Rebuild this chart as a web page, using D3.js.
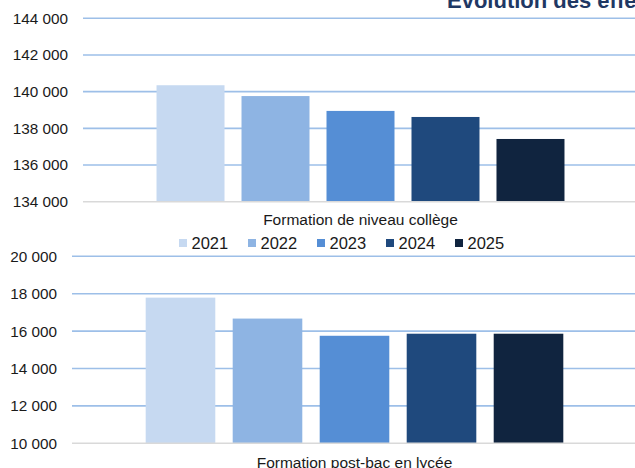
<!DOCTYPE html>
<html>
<head>
<meta charset="utf-8">
<script src="https://cdn.jsdelivr.net/npm/d3@7"></script>
<style>
  html, body { margin: 0; padding: 0; background: #fff; }
  svg { display: block; }
  text { font-family: "Liberation Sans", Arial, sans-serif; fill: #1a1a1a; }
</style>
</head>
<body>
<svg id="chart" width="635" height="468"></svg>
<script>
const title = "Évolution des effectifs";
const years = ["2021", "2022", "2023", "2024", "2025"];
const colors = ["#C6D9F1", "#8EB4E3", "#558ED5", "#1F497D", "#10243F"];

const collegeLabel = "Formation de niveau collège";
const collegeValues = [140350, 139760, 138950, 138620, 137420];
const collegeTicks = [134000, 136000, 138000, 140000, 142000, 144000];

const postbacLabel = "Formation post-bac en lycée";
const postbacValues = [17790, 16670, 15750, 15860, 15860];
const postbacTicks = [10000, 12000, 14000, 16000, 18000, 20000];

const svg = d3.select("#chart");
const fmt = d => d3.format(",")(d).replace(/,/g, "\u00a0");

svg.append("text")
  .attr("x", 447).attr("y", 8)
  .attr("font-size", 22).attr("font-weight", "bold")
  .style("fill", "#1F3864")
  .text(title);

function panel(cfg) {
  const y = d3.scaleLinear().domain(cfg.domain).range([cfg.bottom, cfg.top]);
  const x = d3.scaleBand().domain(years).range([cfg.left, cfg.right])
    .paddingInner(0.2).paddingOuter(cfg.outer);
  const g = svg.append("g");

  const axis = d3.axisLeft(y).tickValues(cfg.ticks).tickFormat(fmt).tickSize(0).tickPadding(0);
  const ax = g.append("g").attr("transform", `translate(${cfg.labelRight},0)`).call(axis);
  ax.select(".domain").remove();
  ax.selectAll("text").attr("font-size", 15.3).style("fill", "#1a1a1a")
    .style("font-family", '"Liberation Sans", Arial, sans-serif');

  g.selectAll("line.grid").data(cfg.ticks.slice(1)).join("line")
    .attr("class", "grid")
    .attr("x1", cfg.left).attr("x2", 635)
    .attr("y1", d => y(d)).attr("y2", d => y(d))
    .attr("stroke", "#9DBFE8").attr("stroke-width", 1.6);

  g.selectAll("rect.bar").data(cfg.values).join("rect")
    .attr("class", "bar")
    .attr("x", (d, i) => x(years[i]))
    .attr("width", x.bandwidth())
    .attr("y", d => y(d))
    .attr("height", d => y(cfg.domain[0]) - y(d))
    .attr("fill", (d, i) => colors[i]);

  g.append("line")
    .attr("x1", cfg.left).attr("x2", 635)
    .attr("y1", y(cfg.domain[0])).attr("y2", y(cfg.domain[0]))
    .attr("stroke", "#D9D9D9").attr("stroke-width", 1.6);

  g.append("text")
    .attr("x", (cfg.left + cfg.right) / 2).attr("y", cfg.labelY)
    .attr("text-anchor", "middle").attr("font-size", 15.5)
    .text(cfg.label);
}

panel({
  domain: [134000, 144000], ticks: collegeTicks, values: collegeValues,
  top: 18.3, bottom: 201.7, left: 83, right: 638, outer: 0.865,
  labelRight: 68, label: collegeLabel, labelY: 224.5
});

panel({
  domain: [10000, 20000], ticks: postbacTicks, values: postbacValues,
  top: 256.3, bottom: 443.3, left: 72, right: 637, outer: 0.847,
  labelRight: 57, label: postbacLabel, labelY: 468
});

// legend
const legend = svg.append("g");
const lx = d3.scalePoint().domain(years).range([179, 455]);
years.forEach((yr, i) => {
  legend.append("rect")
    .attr("x", lx(yr)).attr("y", 239).attr("width", 8).attr("height", 8)
    .attr("fill", colors[i]);
  legend.append("text")
    .attr("x", lx(yr) + 12.5).attr("y", 249)
    .attr("font-size", 16.5)
    .text(yr);
});
</script>
</body>
</html>
